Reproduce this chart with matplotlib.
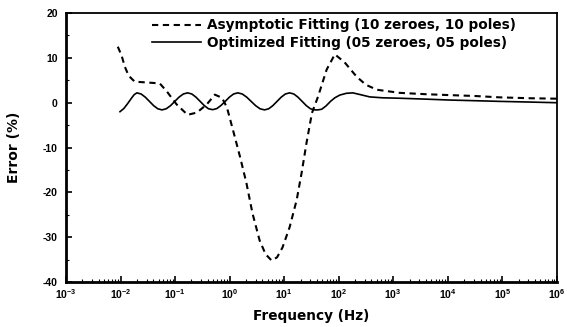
import matplotlib
matplotlib.use("Agg")
import matplotlib.pyplot as plt
import numpy as np

# Asymptotic fitting (10 zeroes, 10 poles): log10(freq), error %
asym_logf = [-2.05, -1.98, -1.92, -1.85, -1.74, -1.62, -1.50, -1.38, -1.28, -1.15,
             -0.97, -0.77, -0.60, -0.42, -0.27, -0.14, -0.05, 0.06, 0.19, 0.31,
             0.42, 0.55, 0.66, 0.77, 0.87, 0.97, 1.10, 1.23, 1.32, 1.41, 1.51,
             1.62, 1.78, 1.93, 2.11, 2.33, 2.50, 2.70, 3.12, 3.60, 4.03, 4.50,
             4.95, 5.50, 6.00]
asym_err = [12.5, 10.5, 8.0, 6.0, 4.7, 4.6, 4.5, 4.4, 4.3, 2.5,
            -0.4, -2.7, -2.2, -0.4, 1.8, 1.1, -1.0, -6.0, -12.0, -18.0,
            -24.7, -30.7, -33.8, -35.2, -34.5, -32.3, -27.8, -21.7, -15.7, -9.0, -2.3,
            1.3, 7.4, 10.8, 9.0, 5.8, 4.0, 2.9, 2.2, 1.9, 1.7, 1.5,
            1.2, 1.0, 0.9]

# Optimized fitting (05 zeroes, 05 poles)
opt_logf = [-2.01, -1.94, -1.87, -1.80, -1.75, -1.70,
            -1.623, -1.547, -1.47, -1.393, -1.317, -1.24,
            -1.162, -1.083, -1.005, -0.927, -0.848, -0.77,
            -0.693, -0.617, -0.54, -0.463, -0.387, -0.31,
            -0.233, -0.157, -0.08, -0.003, 0.073, 0.15,
            0.232, 0.313, 0.395, 0.477, 0.558, 0.64,
            0.717, 0.793, 0.87, 0.947, 1.023, 1.10,
            1.177, 1.253, 1.33, 1.407, 1.483, 1.56,
            1.62, 1.69, 1.77, 1.85, 1.93, 2.02, 2.14, 2.26, 2.40, 2.57,
            2.80, 3.12, 3.60, 4.03, 4.50, 4.95, 5.50, 6.00]
opt_err = [-2.0, -1.3, -0.2, 1.0, 1.8, 2.2,
           1.95, 1.25, 0.3, -0.65, -1.35, -1.6,
           -1.35, -0.65, 0.3, 1.25, 1.95, 2.2,
           1.95, 1.25, 0.3, -0.65, -1.35, -1.55,
           -1.3, -0.6, 0.3, 1.25, 1.95, 2.2,
           1.95, 1.25, 0.3, -0.65, -1.35, -1.6,
           -1.35, -0.65, 0.3, 1.25, 1.95, 2.2,
           1.95, 1.25, 0.3, -0.65, -1.35, -1.6,
           -1.6, -1.45, -0.7, 0.3, 1.1, 1.7, 2.1, 2.2, 1.8, 1.3,
           1.1, 1.0, 0.8, 0.6, 0.45, 0.3, 0.15, 0.0]

asym_label = "Asymptotic Fitting (10 zeroes, 10 poles)"
opt_label = "Optimized Fitting (05 zeroes, 05 poles)"
xticks = [1e-3, 1e-2, 1e-1, 1e0, 1e1, 1e2, 1e3, 1e4, 1e5, 1e6]
yticks = [20, 10, 0, -10, -20, -30, -40]

plt.rcParams['font.family'] = ['Liberation Sans', 'DejaVu Sans']
plt.rcParams['axes.unicode_minus'] = False
plt.rcParams['mathtext.fontset'] = 'custom'
plt.rcParams['mathtext.rm'] = 'Liberation Sans:bold'
plt.rcParams['mathtext.it'] = 'Liberation Sans:bold'
plt.rcParams['mathtext.bf'] = 'Liberation Sans:bold'

fig = plt.figure(figsize=(5.67, 3.27), dpi=100)
ax = fig.add_axes([0.1164, 0.1376, 0.8656, 0.8224])

ax.plot(10 ** np.array(asym_logf), asym_err, color='black', lw=1.5,
        linestyle=(0, (3, 2.2)), label=asym_label)
ax.plot(10 ** np.array(opt_logf), opt_err, color='black', lw=1.2,
        linestyle='-', label=opt_label)

ax.set_xscale('log')
ax.set_xlim(1e-3, 1e6)
ax.set_ylim(-40, 20)
ax.set_xticks(xticks)
ax.set_yticks(yticks)
ax.set_yticks([15, 5, -5, -15, -25, -35], minor=True)
ax.tick_params(axis='both', which='both', direction='in', top=False, right=False)
ax.tick_params(axis='both', which='major', length=4, width=1.2, labelsize=7.5)
ax.tick_params(axis='y', which='major', pad=6)
ax.tick_params(axis='both', which='minor', length=2, width=0.8)
for lab in ax.get_xticklabels() + ax.get_yticklabels():
    lab.set_fontweight('bold')

for s in ax.spines.values():
    s.set_linewidth(1.3)
ax.spines['left'].set_linewidth(2.0)
ax.spines['bottom'].set_linewidth(2.0)

ax.set_xlabel("Frequency (Hz)", fontsize=9.8, fontweight='bold', labelpad=6,
              family='DejaVu Sans')
ax.set_ylabel("Error (%)", fontsize=10, fontweight='bold', labelpad=16,
              family='DejaVu Sans')

leg = ax.legend(loc='upper left', bbox_to_anchor=(0.15, 1.026), frameon=False,
                handlelength=3.6, handletextpad=0.45, labelspacing=0.28,
                borderpad=0.4,
                prop={'size': 9.8, 'weight': 'bold', 'family': 'DejaVu Sans'})

fig.savefig("out.png", dpi=100)
